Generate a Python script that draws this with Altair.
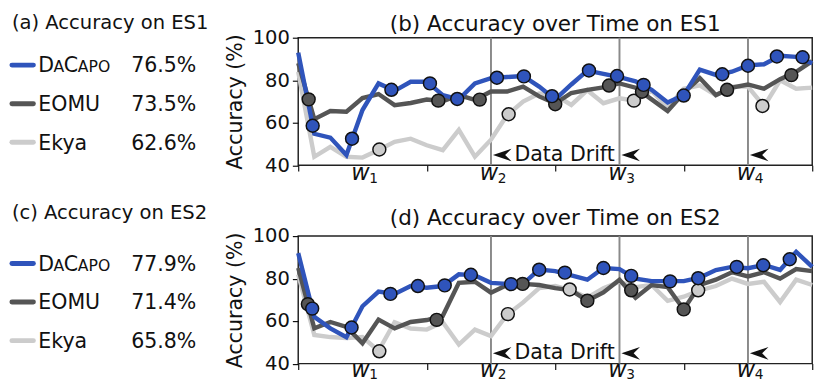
import altair as alt
import pandas as pd

# ---------------- data ----------------
T = list(range(33))

ES1_DACAPO = [93, 54.8, 53, 44.8, 66, 78.5, 75, 79.3, 79.3, 73, 71, 78.5, 81, 81.5, 82, 77, 71,
              78, 84.5, 83, 81.5, 79.5, 75.5, 69.5, 73, 85, 82.5, 84, 87, 87.5, 91.5, 91, 88]
ES1_EOMU = [88, 61.7, 65.5, 65.2, 71.6, 73.5, 68.3, 69.3, 70.9, 70.1, 73, 70.8, 74.7, 74.7, 77, 72.4, 69,
            74, 75.5, 76.6, 78.5, 76.5, 71, 65.5, 74, 81, 73, 76.5, 78, 76, 80.5, 84, 89]
ES1_EKYA = [84, 44, 48.7, 44, 43.6, 47.2, 51, 52.5, 49.4, 47.1, 56.6, 44, 52, 63.5, 70, 73.8, 73,
            68.4, 75.3, 69.2, 71.5, 70.4, 75, 67, 76, 77.6, 73, 77, 77, 67.7, 80, 76, 76.5]

ES1_DACAPO_PTS_T = [0.9, 3.35, 5.8, 8.2, 9.9, 12.37, 14.05, 15.8, 18.1, 19.85, 21.5, 24.0, 26.4, 28.0, 29.8, 31.4]
ES1_DACAPO_PTS_Y = [58.6, 52.5, 75.5, 78.5, 71.2, 81.2, 81.8, 72.5, 84.6, 82.0, 77.8, 72.8, 82.8, 86.8, 91.2, 90.8]
ES1_EOMU_PTS_T = [0.65, 8.72, 11.3, 16.0, 19.35, 21.4, 26.7, 30.7]
ES1_EOMU_PTS_Y = [71.0, 70.4, 70.9, 68.7, 77.5, 74.6, 75.5, 82.4]
ES1_EKYA_PTS_T = [5.05, 13.1, 20.9, 28.9]
ES1_EKYA_PTS_Y = [47.4, 64.0, 70.4, 67.9]

ES2_DACAPO = [92, 62, 56.6, 52.4, 67, 73.9, 72.8, 76.5, 75.7, 76.5, 82, 81.5, 78, 77.5, 77.5, 84.3, 83.5,
              81.5, 79.5, 85, 84.5, 80, 78.8, 78.8, 78.8, 80.5, 84, 85.5, 84.9, 86.4, 84.1, 92.6, 85.5]
ES2_EOMU = [85, 56.6, 59.6, 57.3, 49.6, 60.7, 56.6, 59.6, 60.5, 62.5, 78, 78.5, 73.4, 77, 77.5, 77, 75.5,
            74.5, 69.6, 73.5, 79.5, 71, 77, 76, 65.5, 77, 79.5, 83, 81, 83, 80, 84.5, 83.5]
ES2_EKYA = [82, 53.5, 52.5, 52, 52.5, 46, 59.5, 56.5, 56, 59.5, 49, 56, 53, 63, 68.8, 75.5, 76.5,
            74.5, 71, 75.5, 78.5, 76, 77, 69.5, 71.5, 74.5, 76.5, 80, 77.5, 78.5, 69, 79.5, 77]

ES2_DACAPO_PTS_T = [0.87, 3.32, 5.74, 7.45, 9.12, 10.75, 13.25, 15.0, 16.6, 19.0, 20.73, 23.15, 24.9, 27.3, 28.95, 30.6]
ES2_DACAPO_PTS_Y = [65.9, 57.0, 72.8, 76.5, 76.8, 81.8, 77.4, 84.2, 82.8, 85.0, 81.3, 78.7, 80.2, 85.5, 86.3, 89.1]
ES2_EOMU_PTS_T = [0.6, 8.62, 13.97, 18.0, 20.73, 24.0]
ES2_EOMU_PTS_Y = [68.0, 60.6, 77.5, 69.6, 74.5, 65.5]
ES2_EKYA_PTS_T = [5.05, 13.05, 16.9, 24.9]
ES2_EKYA_PTS_Y = [45.8, 63.3, 74.9, 74.5]

ES1_AVG = ["76.5%", "73.5%", "62.6%"]
ES2_AVG = ["77.9%", "71.4%", "65.8%"]

DRIFT_T = [12, 20, 28]
WINDOW_T = [4, 12, 20, 28]
WINDOW_SUB = ["1", "2", "3", "4"]
SEP_T = [0, 8, 16, 24, 32]
Y_TICKS = [40, 60, 80, 100]

# ---------------- style ----------------
W, H = 526, 130.5
FONT = "DejaVu Sans"
INK = "#111111"
BLUE = "#2f54bb"
DARK = "#555555"
LIGHT = "#cccccc"
ARROW = "M0.2,0 L2.1,-0.65 L1.45,0 L2.1,0.65 Z"

x_enc = alt.X("t:Q", scale=alt.Scale(domain=[0, 32], nice=False, zero=False),
              axis=alt.Axis(values=SEP_T, labels=False, domain=False, grid=False, ticks=True,
                            tickSize=6, tickColor=INK, tickWidth=1.2, title=""))
y_enc = alt.Y("acc:Q", scale=alt.Scale(domain=[40, 100], nice=False, zero=False),
              axis=alt.Axis(values=Y_TICKS, labelFontSize=20, labelFont=FONT, labelColor=INK,
                            tickSize=6, tickColor=INK, tickWidth=1.2, domain=False, grid=False,
                            labelPadding=3, title="Accuracy (%)", titleFontSize=21, titleFont=FONT,
                            titleFontWeight="normal", titleColor=INK, titlePadding=7))


def txt(s, x, y, size, align="left", baseline="middle", style="normal"):
    return alt.Chart(pd.DataFrame({"s": [s]})).mark_text(
        align=align, baseline=baseline, fontSize=size, font=FONT, color=INK, fontStyle=style
    ).encode(text="s:N", x=alt.value(x), y=alt.value(y))


def panel(lines, pts, avgs, panel_title, plot_title, top_off, title_off, w_off, sub_off):
    layers = []
    layers.append(alt.Chart(pd.DataFrame({"t": DRIFT_T})).mark_rule(color="#8a8a8a", strokeWidth=2)
                  .encode(x=x_enc))
    colors = [LIGHT, DARK, BLUE]
    for vals, col in zip(lines, colors):
        layers.append(alt.Chart(pd.DataFrame({"t": T, "acc": vals})).mark_line(
            color=col, strokeWidth=4.5).encode(x=x_enc, y=y_enc))
    for (pt, py), col in zip(pts, colors):
        layers.append(alt.Chart(pd.DataFrame({"t": pt, "acc": py})).mark_circle(
            size=175, color=col, opacity=1, stroke=INK, strokeWidth=1.5).encode(x=x_enc, y=y_enc))
    # data drift annotation
    layers.append(alt.Chart(pd.DataFrame({"t": DRIFT_T})).mark_point(
        shape=ARROW, size=400, filled=True, color=INK, opacity=1, strokeWidth=0)
        .encode(x=x_enc, y=alt.value(120)))
    layers.append(alt.Chart(pd.DataFrame({"t": [DRIFT_T[0]], "s": ["Data Drift"]})).mark_text(
        align="left", baseline="middle", dx=24, fontSize=21, font=FONT, color=INK)
        .encode(x=x_enc, y=alt.value(120), text="s:N"))
    # window labels
    layers.append(alt.Chart(pd.DataFrame({"t": WINDOW_T, "s": ["w"] * 4})).mark_text(
        align="center", baseline="alphabetic", dx=-2, fontSize=23, font=FONT, fontStyle="italic", color=INK)
        .encode(x=x_enc, y=alt.value(H + w_off), text="s:N"))
    layers.append(alt.Chart(pd.DataFrame({"t": WINDOW_T, "s": WINDOW_SUB})).mark_text(
        align="left", baseline="alphabetic", dx=7, fontSize=14, font=FONT, color=INK)
        .encode(x=x_enc, y=alt.value(H + w_off + sub_off), text="s:N"))
    # titles
    layers.append(txt(panel_title, -293, top_off, 20))
    layers.append(txt(plot_title, W / 2, title_off, 22, align="center"))
    # legend block
    rows = [28, 67.5, 107]
    for r, col in zip(rows, [BLUE, DARK, LIGHT]):
        layers.append(alt.Chart(pd.DataFrame({"s": [0]})).mark_rule(
            color=col, strokeWidth=5, strokeCap="round")
            .encode(x=alt.value(-293), x2=alt.value(-271), y=alt.value(r)))
    b0 = rows[0] + 7.5
    layers.append(txt("D", -266, b0, 21, baseline="alphabetic"))
    layers.append(txt("A", -250.5, b0, 16, baseline="alphabetic"))
    layers.append(txt("C", -240, b0, 21, baseline="alphabetic"))
    layers.append(txt("APO", -225.5, b0, 16, baseline="alphabetic"))
    layers.append(txt("EOMU", -266, rows[1] + 7.5, 21, baseline="alphabetic"))
    layers.append(txt("Ekya", -266, rows[2] + 7.5, 21, baseline="alphabetic"))
    for r, a in zip(rows, avgs):
        layers.append(txt(a, -171, r + 7.5, 21, baseline="alphabetic"))
    return alt.layer(*layers).properties(width=W, height=H)


top = panel([ES1_EKYA, ES1_EOMU, ES1_DACAPO],
            [(ES1_EKYA_PTS_T, ES1_EKYA_PTS_Y), (ES1_EOMU_PTS_T, ES1_EOMU_PTS_Y),
             (ES1_DACAPO_PTS_T, ES1_DACAPO_PTS_Y)],
            ES1_AVG, "(a) Accuracy on ES1", "(b) Accuracy over Time on ES1", -15, -14, 15, 3)
bottom = panel([ES2_EKYA, ES2_EOMU, ES2_DACAPO],
               [(ES2_EKYA_PTS_T, ES2_EKYA_PTS_Y), (ES2_EOMU_PTS_T, ES2_EOMU_PTS_Y),
                (ES2_DACAPO_PTS_T, ES2_DACAPO_PTS_Y)],
               ES2_AVG, "(c) Accuracy on ES2", "(d) Accuracy over Time on ES2", -23.5, -18, 13.5, 2)

chart = alt.vconcat(top, bottom, spacing=72, bounds="flush").properties(
    padding=0, background="white"
).configure(font=FONT).configure_view(stroke="#222222", strokeWidth=1.5)

chart.save("out.html", embed_options={"renderer": "svg", "actions": False})
